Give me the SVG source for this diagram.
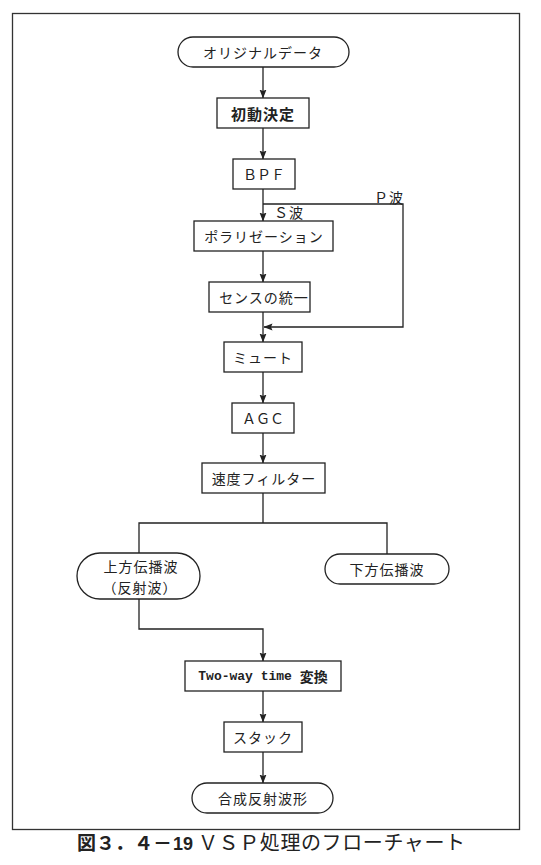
<svg xmlns="http://www.w3.org/2000/svg" width="541" height="865" viewBox="0 0 541 865">
<style>
.n{fill:#fff;stroke:#222;stroke-width:1.3}
.t{font-family:"Noto Sans CJK JP","Noto Sans",sans-serif;font-size:14px;fill:#222;text-anchor:middle;dominant-baseline:central;letter-spacing:1px}
.c{fill:none;stroke:#222;stroke-width:1.3}
.cap{font-family:"Noto Sans CJK JP",sans-serif;fill:#222}
</style>
<defs>
<marker id="a" markerWidth="9" markerHeight="8" refX="8.5" refY="4" orient="auto" markerUnits="userSpaceOnUse">
<path d="M0,0.5 L9,4 L0,7.5 L1.5,4 z" fill="#222"/>
</marker>
</defs>
<rect x="12.5" y="13.5" width="507" height="816" fill="none" stroke="#333" stroke-width="1.3"/>
<g id="connectors">
<path class="c" d="M263,67 V98" marker-end="url(#a)"/>
<path class="c" d="M263,128 V159" marker-end="url(#a)"/>
<path class="c" d="M263,189 V221" marker-end="url(#a)"/>
<path class="c" d="M263,204 H403 V327 H264" marker-end="url(#a)"/>
<path class="c" d="M263,251 V282" marker-end="url(#a)"/>
<path class="c" d="M263,312 V342" marker-end="url(#a)"/>
<path class="c" d="M263,372 V403" marker-end="url(#a)"/>
<path class="c" d="M263,433 V463" marker-end="url(#a)"/>
<path class="c" d="M263,493 V523 M139,553 V523 H387 V554"/>
<path class="c" d="M139,599 V629 H263 V661" marker-end="url(#a)"/>
<path class="c" d="M263,691 V722" marker-end="url(#a)"/>
<path class="c" d="M263,752 V783" marker-end="url(#a)"/>
<text class="t" x="389" y="197">Ｐ波</text>
<text class="t" x="289" y="212">Ｓ波</text>
</g>
<g id="n1"><rect class="n" x="178" y="37" width="171" height="30" rx="15"/><text class="t" x="263" y="52">オリジナルデータ</text></g>
<g id="n2"><rect class="n" x="217" y="98" width="92" height="30"/><text class="t" x="263" y="113" style="font-weight:bold;font-size:15px">初動決定</text></g>
<g id="n3"><rect class="n" x="233" y="159" width="62" height="30"/><text class="t" x="264" y="174" style="letter-spacing:0">ＢＰＦ</text></g>
<g id="n4"><rect class="n" x="194" y="221" width="139" height="30"/><text class="t" x="264" y="236">ポラリゼーション</text></g>
<g id="n5"><rect class="n" x="209" y="282" width="101" height="30"/><text class="t" x="264" y="297">センスの統一</text></g>
<g id="n6"><rect class="n" x="224" y="342" width="78" height="30"/><text class="t" x="263" y="357">ミュート</text></g>
<g id="n7"><rect class="n" x="232" y="403" width="62" height="30"/><text class="t" x="263" y="418" style="letter-spacing:0">ＡＧＣ</text></g>
<g id="n8"><rect class="n" x="202" y="463" width="123" height="30"/><text class="t" x="264" y="478">速度フィルター</text></g>
<g id="n9"><rect class="n" x="77" y="553" width="123" height="46" rx="23"/><text class="t" x="141" y="566">上方伝播波</text><text class="t" x="140" y="587">（反射波）</text></g>
<g id="n10"><rect class="n" x="325" y="554" width="124" height="30" rx="15"/><text class="t" x="387" y="569">下方伝播波</text></g>
<g id="n11"><rect class="n" x="185" y="661" width="156" height="30"/><text class="t" x="263" y="676" style="font-weight:bold;letter-spacing:0"><tspan font-family="Liberation Mono" font-size="13">Two-way time </tspan>変換</text></g>
<g id="n12"><rect class="n" x="224" y="722" width="78" height="30"/><text class="t" x="263" y="737">スタック</text></g>
<g id="n13"><rect class="n" x="192" y="783" width="141" height="30" rx="15"/><text class="t" x="263" y="798">合成反射波形</text></g>
<g id="caption">
<text class="cap" y="850" style="font-size:19px;font-weight:bold"><tspan x="77">図３．４－</tspan><tspan x="173" style="font-family:'Liberation Sans',sans-serif;font-size:18px">19</tspan></text>
<text class="cap" x="198" y="850" style="font-size:20px;letter-spacing:0.6px">ＶＳＰ処理のフローチャート</text>
</g>
</svg>
